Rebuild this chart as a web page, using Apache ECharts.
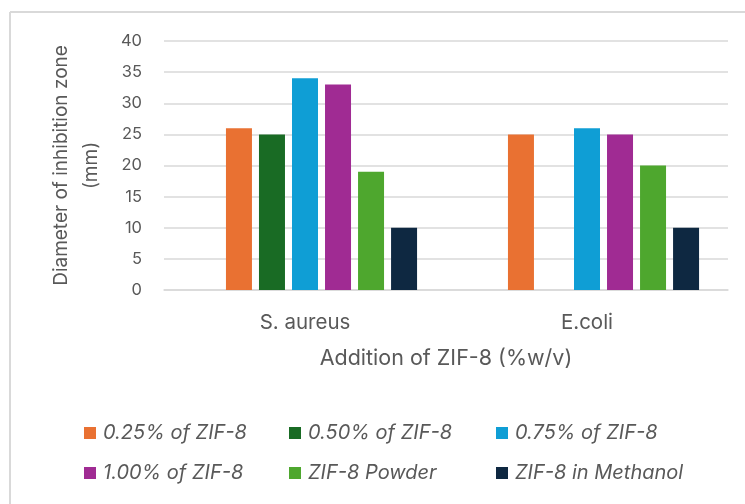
<!DOCTYPE html>
<html>
<head>
<meta charset="utf-8">
<script src="https://cdn.jsdelivr.net/npm/echarts@6/dist/echarts.min.js"></script>
<style>
  html, body { margin: 0; padding: 0; background: #fff; }
  #chart { width: 745px; height: 504px; }
</style>
</head>
<body>
<div id="chart"></div>
<script>
// Bacteria tested
const categories = ['S. aureus', 'E.coli'];

// Series names and inhibition zone diameters (mm)
const seriesNames = [
  '0.25% of ZIF-8',
  '0.50% of ZIF-8',
  '0.75% of ZIF-8',
  '1.00% of ZIF-8',
  'ZIF-8 Powder',
  'ZIF-8 in Methanol'
];
const zif025 = [26, 25];
const zif050 = [25, null];
const zif075 = [34, 26];
const zif100 = [33, 25];
const zifPowder = [19, 20];
const zifMethanol = [10, 10];
// empty leading slot in each category group
const blankSlot = [null, null];

const yTicks = [0, 5, 10, 15, 20, 25, 30, 35, 40];

const colors = ['#E97132', '#196B24', '#0F9ED5', '#A02B93', '#4EA72E', '#0E2841'];
const values = [zif025, zif050, zif075, zif100, zifPowder, zifMethanol];

const font = 'Inter, "Noto Sans", "Liberation Sans", sans-serif';
const grey = '#595959';

const chart = echarts.init(document.getElementById('chart'), null, { renderer: 'canvas' });

const series = [{
  name: '_blank', type: 'bar', data: blankSlot,
  barWidth: 26, barGap: '27%', silent: true
}].concat(seriesNames.map((n, i) => ({
  name: n,
  type: 'bar',
  data: values[i],
  barWidth: 26,
  barGap: '27%',
  itemStyle: { color: colors[i] }
})));

// one legend per entry, laid out on a 3-column grid
const legendCols = [84, 289, 496];
const legendRows = [423, 463];
const legends = seriesNames.map((n, i) => ({
  data: [n],
  left: legendCols[i % 3],
  top: legendRows[Math.floor(i / 3)],
  padding: 0,
  itemWidth: 12,
  itemHeight: 12,
  itemGap: 0,
  icon: 'rect',
  textStyle: { color: grey, fontSize: 20, fontStyle: 'italic', fontFamily: font, padding: [0, 0, 0, 2] },
  selectedMode: false
}));

chart.setOption({
  animation: false,
  backgroundColor: '#fff',
  grid: { left: 164, right: 17, top: 41, bottom: 214 },
  legend: legends,
  xAxis: {
    type: 'category',
    data: categories,
    axisTick: { show: false },
    axisLine: { lineStyle: { color: '#d9d9d9', width: 1.5 } },
    axisLabel: { color: grey, fontSize: 20.5, fontFamily: font, margin: 22 },
    name: 'Addition of ZIF-8 (%w/v)',
    nameLocation: 'middle',
    nameGap: 58,
    nameTextStyle: { color: grey, fontSize: 21.5, fontFamily: font }
  },
  yAxis: {
    type: 'value',
    min: yTicks[0],
    max: yTicks[yTicks.length - 1],
    interval: 5,
    axisLine: { show: false },
    axisTick: { show: false },
    splitLine: { lineStyle: { color: '#d9d9d9', width: 1.5 } },
    axisLabel: { color: grey, fontSize: 16.5, fontFamily: font, margin: 22 },
    name: 'Diameter of inhibition zone\n(mm)',
    nameLocation: 'middle',
    nameRotate: 90,
    nameGap: 58,
    nameTextStyle: { color: grey, fontSize: 19, fontFamily: font, lineHeight: 30, align: 'center' }
  },
  series: series,
  graphic: [
    { type: 'line', shape: { x1: 10, y1: 12, x2: 745, y2: 12 }, style: { stroke: '#d9d9d9', lineWidth: 2 } },
    { type: 'line', shape: { x1: 10, y1: 12, x2: 10, y2: 504 }, style: { stroke: '#d9d9d9', lineWidth: 2 } }
  ]
});
</script>
</body>
</html>
